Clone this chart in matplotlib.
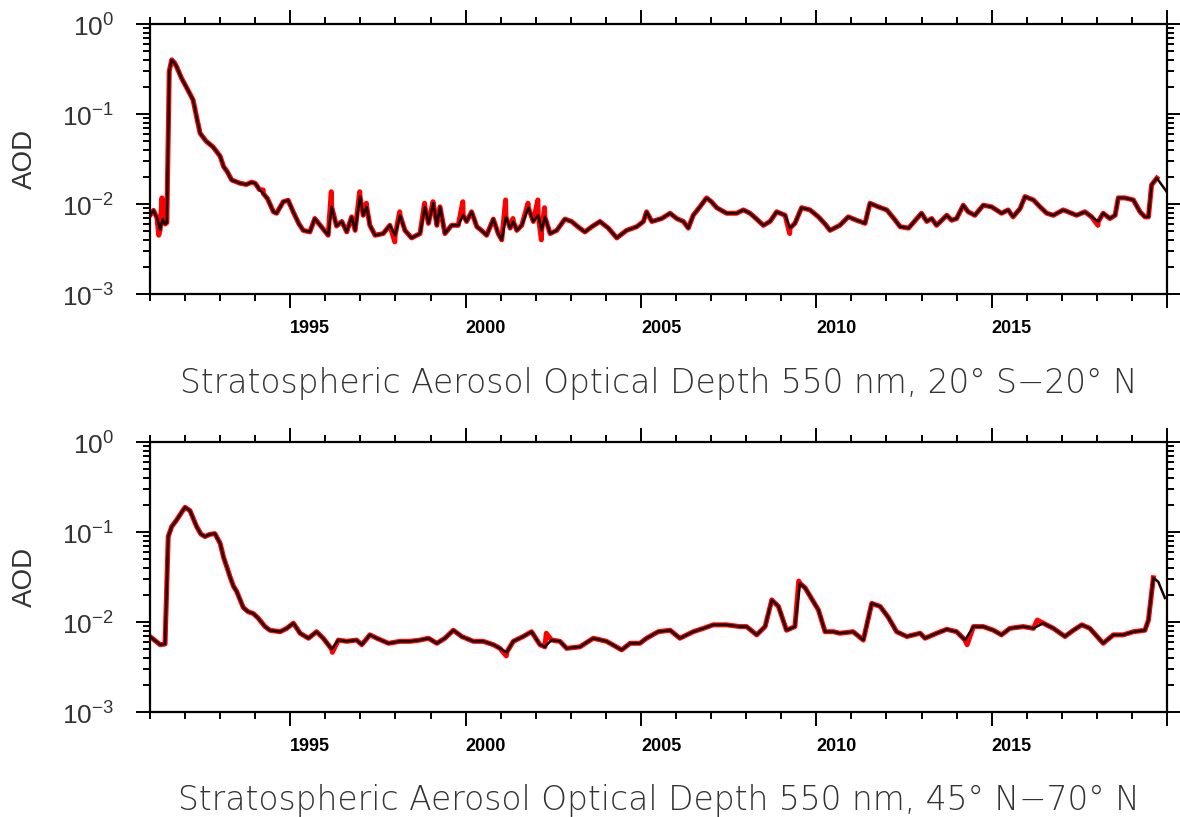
import numpy as np
import matplotlib.pyplot as plt
from matplotlib.ticker import FixedLocator, FixedFormatter, NullFormatter

plt.rcParams['font.family'] = ['Liberation Sans', 'DejaVu Sans']
plt.rcParams['mathtext.fontset'] = 'custom'
plt.rcParams['mathtext.rm'] = 'Liberation Sans'

# 20S-20N, black line (decimal year, AOD)
trop_t = [1991.00, 1991.10, 1991.20, 1991.29, 1991.36, 1991.43, 1991.48, 1991.55, 1991.62, 1991.70,
          1991.76, 1991.90, 1992.05, 1992.23, 1992.35, 1992.43, 1992.60, 1992.80, 1993.00, 1993.10,
          1993.20, 1993.33, 1993.57, 1993.75, 1993.90, 1994.00, 1994.12, 1994.23, 1994.35, 1994.52,
          1994.61, 1994.80, 1994.94, 1995.09, 1995.25, 1995.37, 1995.56, 1995.70, 1995.90, 1996.08,
          1996.18, 1996.32, 1996.47, 1996.61, 1996.75, 1996.85, 1996.99, 1997.08, 1997.18, 1997.27,
          1997.42, 1997.65, 1997.84, 1997.99, 1998.13, 1998.27, 1998.46, 1998.70, 1998.84, 1998.94,
          1999.08, 1999.18, 1999.27, 1999.41, 1999.60, 1999.79, 1999.93, 2000.03, 2000.17, 2000.32,
          2000.45, 2000.60, 2000.79, 2000.93, 2001.03, 2001.15, 2001.27, 2001.36, 2001.46, 2001.60,
          2001.79, 2001.93, 2002.07, 2002.17, 2002.26, 2002.41, 2002.60, 2002.83, 2003.02, 2003.20,
          2003.40, 2003.60, 2003.83, 2004.07, 2004.31, 2004.59, 2004.88, 2005.07, 2005.16, 2005.31,
          2005.59, 2005.83, 2006.02, 2006.21, 2006.35, 2006.49, 2006.68, 2006.87, 2007.01, 2007.16,
          2007.44, 2007.73, 2007.92, 2008.11, 2008.30, 2008.49, 2008.68, 2008.87, 2009.11, 2009.25,
          2009.39, 2009.58, 2009.82, 2010.06, 2010.25, 2010.39, 2010.67, 2010.91, 2011.15, 2011.39,
          2011.53, 2011.77, 2012.01, 2012.20, 2012.39, 2012.63, 2012.87, 2013.00, 2013.15, 2013.29,
          2013.43, 2013.72, 2013.86, 2014.00, 2014.19, 2014.33, 2014.52, 2014.76, 2015.00, 2015.28,
          2015.47, 2015.61, 2015.81, 2015.95, 2016.19, 2016.38, 2016.57, 2016.76, 2017.04, 2017.28,
          2017.42, 2017.66, 2017.85, 2018.04, 2018.18, 2018.37, 2018.52, 2018.61, 2018.80, 2019.04,
          2019.23, 2019.37, 2019.47, 2019.56, 2019.71, 2019.99]
trop_aod = [0.0075, 0.0085, 0.0070, 0.0052, 0.0068, 0.0060, 0.0062, 0.30, 0.40, 0.37,
            0.335, 0.25, 0.195, 0.143, 0.085, 0.061, 0.050, 0.043, 0.034, 0.026,
            0.023, 0.0185, 0.017, 0.0165, 0.0175, 0.017, 0.0145, 0.0131, 0.0115, 0.0082,
            0.0079, 0.0106, 0.0110, 0.0081, 0.0060, 0.0051, 0.0049, 0.0069, 0.0055, 0.0045,
            0.0093, 0.0057, 0.0064, 0.0049, 0.0072, 0.0051, 0.0121, 0.0075, 0.0093, 0.0058,
            0.0045, 0.0047, 0.0058, 0.0045, 0.0075, 0.0051, 0.0042, 0.0047, 0.0093, 0.0061,
            0.0102, 0.0058, 0.0093, 0.0047, 0.0058, 0.0058, 0.0075, 0.0064, 0.0082, 0.0056,
            0.0051, 0.0045, 0.0068, 0.0047, 0.0040, 0.0072, 0.0054, 0.0064, 0.0051, 0.0058,
            0.0091, 0.0064, 0.0075, 0.0051, 0.0072, 0.0047, 0.0051, 0.0068, 0.0064, 0.0056,
            0.0049, 0.0056, 0.0064, 0.0054, 0.0042, 0.0051, 0.0056, 0.0064, 0.0082, 0.0064,
            0.0069, 0.0079, 0.0069, 0.0064, 0.0054, 0.0075, 0.0093, 0.0117, 0.0106, 0.0091,
            0.0079, 0.0079, 0.0086, 0.0079, 0.0068, 0.0058, 0.0064, 0.0082, 0.0075, 0.0054,
            0.0061, 0.0091, 0.0086, 0.0072, 0.0060, 0.0051, 0.0058, 0.0072, 0.0066, 0.0061,
            0.0102, 0.0093, 0.0086, 0.0070, 0.0056, 0.0054, 0.0069, 0.0079, 0.0064, 0.0069,
            0.0058, 0.0075, 0.0066, 0.0069, 0.0097, 0.0082, 0.0075, 0.0097, 0.0093, 0.0079,
            0.0086, 0.0072, 0.0089, 0.0121, 0.0111, 0.0093, 0.0079, 0.0075, 0.0086, 0.0079,
            0.0075, 0.0082, 0.0072, 0.0064, 0.0079, 0.0069, 0.0075, 0.0117, 0.0117, 0.0111,
            0.0082, 0.0072, 0.0072, 0.0163, 0.0194, 0.0137]
# extra excursions of the red series
trop_red_t = [1991.25, 1991.34, 1994.23, 1996.17, 1996.98, 1997.17, 1997.98, 1998.12, 1998.83, 1999.07,
              1999.92, 2001.14, 2001.35, 2001.78, 2002.06, 2002.16, 2002.25, 2009.24, 2018.03]
trop_red_aod = [0.0045, 0.0117, 0.0143, 0.0137, 0.0137, 0.0102, 0.0038, 0.0082, 0.0102, 0.0106,
                0.0106, 0.0111, 0.0069, 0.0102, 0.0111, 0.0040, 0.0091, 0.0047, 0.0058]

# 45N-70N, black line
nh_t = [1991.00, 1991.15, 1991.29, 1991.43, 1991.52, 1991.62, 1991.76, 1991.90, 1992.00, 1992.14,
        1992.33, 1992.45, 1992.57, 1992.70, 1992.85, 1993.00, 1993.10, 1993.19, 1993.28, 1993.38,
        1993.47, 1993.66, 1993.80, 1993.95, 1994.09, 1994.28, 1994.42, 1994.71, 1994.90, 1995.09,
        1995.28, 1995.52, 1995.75, 1995.94, 1996.18, 1996.37, 1996.61, 1996.89, 1997.04, 1997.27,
        1997.47, 1997.80, 1998.13, 1998.41, 1998.70, 1998.94, 1999.18, 1999.41, 1999.65, 1999.89,
        2000.22, 2000.50, 2000.79, 2000.98, 2001.17, 2001.36, 2001.64, 2001.88, 2002.12, 2002.26,
        2002.45, 2002.69, 2002.88, 2003.26, 2003.64, 2004.02, 2004.45, 2004.69, 2004.97, 2005.16,
        2005.49, 2005.83, 2006.11, 2006.49, 2006.78, 2007.06, 2007.44, 2007.82, 2008.01, 2008.30,
        2008.54, 2008.73, 2008.92, 2009.15, 2009.39, 2009.53, 2009.68, 2009.91, 2010.06, 2010.25,
        2010.49, 2010.67, 2011.05, 2011.34, 2011.58, 2011.82, 2012.05, 2012.29, 2012.58, 2012.96,
        2013.10, 2013.43, 2013.72, 2014.00, 2014.24, 2014.48, 2014.76, 2015.05, 2015.28, 2015.52,
        2015.90, 2016.19, 2016.47, 2016.76, 2017.09, 2017.33, 2017.57, 2017.80, 2018.18, 2018.47,
        2018.75, 2019.04, 2019.37, 2019.47, 2019.61, 2019.75, 2019.94]
nh_aod = [0.0069, 0.0062, 0.0056, 0.0057, 0.089, 0.115, 0.136, 0.165, 0.188, 0.173,
          0.115, 0.095, 0.089, 0.094, 0.096, 0.075, 0.052, 0.041, 0.032, 0.025,
          0.022, 0.0145, 0.0130, 0.0124, 0.0110, 0.0089, 0.0081, 0.0078, 0.0085, 0.0097,
          0.0075, 0.0066, 0.0078, 0.0066, 0.0050, 0.0063, 0.0061, 0.0063, 0.0056, 0.0072,
          0.0066, 0.0058, 0.0061, 0.0061, 0.0063, 0.0066, 0.0058, 0.0066, 0.0081, 0.0069,
          0.0061, 0.0061, 0.0056, 0.0051, 0.0046, 0.0061, 0.0069, 0.0078, 0.0056, 0.0053,
          0.0063, 0.0061, 0.0051, 0.0053, 0.0066, 0.0061, 0.0049, 0.0058, 0.0058, 0.0066,
          0.0078, 0.0081, 0.0066, 0.0078, 0.0085, 0.0093, 0.0093, 0.0089, 0.0089, 0.0072,
          0.0089, 0.0176, 0.0149, 0.0081, 0.0089, 0.0269, 0.0240, 0.0170, 0.0136, 0.0078,
          0.0078, 0.0075, 0.0078, 0.0063, 0.0161, 0.0149, 0.0113, 0.0078, 0.0069, 0.0075,
          0.0066, 0.0075, 0.0083, 0.0078, 0.0063, 0.0089, 0.0089, 0.0081, 0.0072, 0.0085,
          0.0089, 0.0085, 0.0097, 0.0085, 0.0069, 0.0081, 0.0093, 0.0085, 0.0058, 0.0072,
          0.0072, 0.0078, 0.0081, 0.0105, 0.0310, 0.0280, 0.0185]
nh_red_t = [1996.20, 2001.16, 2002.30, 2009.50, 2014.30, 2016.30]
nh_red_aod = [0.0046, 0.0042, 0.0075, 0.0285, 0.0056, 0.0105]

red_end = 2019.72
titles = ['Stratospheric Aerosol Optical Depth 550 nm, 20\u00b0 S\u221220\u00b0 N',
          'Stratospheric Aerosol Optical Depth 550 nm, 45\u00b0 N\u221270\u00b0 N']
year_ticks = [1995, 2000, 2005, 2010, 2015, 2020]
year_labels = ['1995', '2000', '2005', '2010', '2015', '']
dec_ticks = [1e-3, 1e-2, 1e-1, 1e0]
dec_labels = [r'$10^{-3}$', r'$10^{-2}$', r'$10^{-1}$', r'$10^{0}$']

fig = plt.figure(figsize=(11.8, 8.17), dpi=100)
boxes = [[0.1271, 0.6401, 0.8619, 0.3305], [0.1271, 0.1285, 0.8619, 0.3305]]
series = [(trop_t, trop_aod, trop_red_t, trop_red_aod), (nh_t, nh_aod, nh_red_t, nh_red_aod)]
title_y = [0.531, 0.020]

for i in range(2):
    ax = fig.add_axes(boxes[i])
    t, v, rt, rv = series[i]
    t = np.array(t); v = np.array(v)
    keep = t <= red_end
    red_t = np.concatenate([t[keep], rt])
    red_v = np.concatenate([v[keep], rv])
    order = np.argsort(red_t)
    ax.plot(red_t[order], red_v[order], color='#ff0000', lw=3.6, solid_joinstyle='round', zorder=2)
    ax.plot(t, v, color='#1a0000', lw=1.8, solid_joinstyle='round', zorder=3)

    ax.set_yscale('log')
    ax.set_ylim(1e-3, 1)
    ax.set_xlim(1991, 2020)
    ax.yaxis.set_major_locator(FixedLocator(dec_ticks))
    ax.yaxis.set_major_formatter(FixedFormatter(dec_labels))
    minors = [m * d for d in dec_ticks[:-1] for m in range(2, 10)]
    ax.yaxis.set_minor_locator(FixedLocator(minors))
    ax.yaxis.set_minor_formatter(NullFormatter())
    ax.xaxis.set_major_locator(FixedLocator(year_ticks))
    ax.xaxis.set_major_formatter(FixedFormatter(year_labels))
    ax.xaxis.set_minor_locator(FixedLocator(list(range(1991, 2020))))

    ax.tick_params(axis='both', which='both', direction='out', top=True, right=True, width=1.4, color='black')
    ax.tick_params(axis='x', which='major', length=10, pad=9, labelsize=13, labelcolor='black')
    ax.tick_params(axis='x', which='minor', length=5)
    ax.tick_params(axis='y', which='major', length=10, pad=16, labelsize=19, labelcolor='#333333')
    ax.tick_params(axis='y', which='minor', length=5)
    for lab in ax.get_xticklabels():
        lab.set_horizontalalignment('left')
        lab.set_fontweight('bold')
    for sp in ax.spines.values():
        sp.set_linewidth(1.6)

    yc = boxes[i][1] + boxes[i][3] / 2
    fig.text(0.021, yc, 'AOD', rotation=90, ha='center', va='center', fontsize=20, color='#333333')
    fig.text(0.5585, title_y[i], titles[i], ha='center', va='center', fontsize=23.7, color='#333333',
             family=['DejaVu Sans'], fontweight='light')

fig.savefig('out.png', dpi=100)
